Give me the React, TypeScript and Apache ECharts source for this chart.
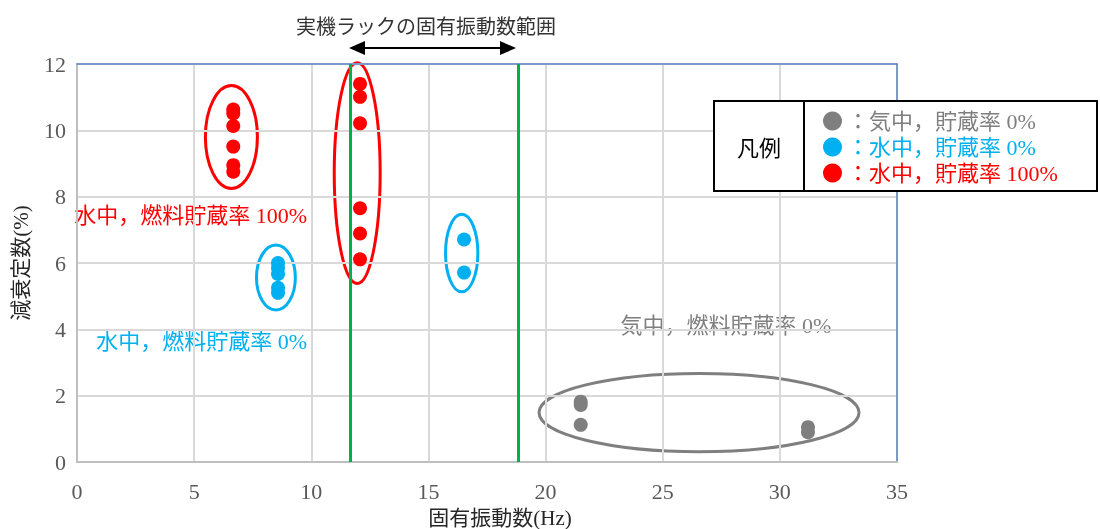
import React, { useEffect, useRef } from "react";
import * as echarts from "echarts";

// ---- data ----
const seriesNames = ["気中，貯蔵率 0%", "水中，貯蔵率 0%", "水中，貯蔵率 100%"];
const seriesColors = ["#7F7F7F", "#00B0F0", "#FF0000"];

const grayX = [21.5, 21.5, 21.5, 31.2, 31.2];
const grayY = [1.82, 1.72, 1.12, 1.05, 0.9];

const blueX = [8.58, 8.58, 8.58, 8.58, 8.58, 16.52, 16.52];
const blueY = [6.0, 5.85, 5.67, 5.25, 5.1, 6.71, 5.71];

const redX = [6.67, 6.67, 6.67, 6.67, 6.67, 6.67, 12.08, 12.08, 12.08, 12.08, 12.08, 12.08];
const redY = [10.63, 10.51, 10.13, 9.51, 8.95, 8.75, 11.4, 11.01, 10.21, 7.65, 6.89, 6.11];

// group ellipses: [centerX, centerY, radiusX, radiusY, colorIndex] in data units
const ellipseCx = [6.59, 11.96, 8.49, 16.42, 26.55];
const ellipseCy = [9.8, 8.71, 5.56, 6.3, 1.49];
const ellipseRx = [1.11, 0.98, 0.83, 0.69, 6.83];
const ellipseRy = [1.55, 3.33, 0.98, 1.17, 1.18];
const ellipseColor = [2, 2, 1, 1, 0];

// real rack natural frequency range (Hz)
const rackRange = [11.65, 18.85];

const xTicks = { min: 0, max: 35, interval: 5 };
const yTicks = { min: 0, max: 12, interval: 2 };

const title = "実機ラックの固有振動数範囲";
const xName = "固有振動数(Hz)";
const yName = "減衰定数(%)";
const legendTitle = "凡例";
const noteRed = "水中，燃料貯蔵率 100%";
const noteBlue = "水中，燃料貯蔵率 0%";
const noteGray = "気中，燃料貯蔵率 0%";

const zip = (xs: number[], ys: number[]) => xs.map((x, i) => [x, ys[i]]);

const SERIF = "'Liberation Serif', 'Noto Sans CJK JP', serif";
const CJK = "'Noto Sans CJK JP', sans-serif";
const BORDER = "#5B83C6";

export default function App() {
  const ref = useRef<HTMLDivElement>(null);
  useEffect(() => {
    if (!ref.current) return;
    const chart = echarts.init(ref.current, undefined, { renderer: "svg" });
    const ellipseData = ellipseCx.map((cx, i) => [cx, ellipseCy[i], ellipseRx[i], ellipseRy[i], ellipseColor[i]]);
    const scatterSets = [zip(grayX, grayY), zip(blueX, blueY), zip(redX, redY)];

    const frameAxis = {
      type: "value",
      axisLine: { show: true, onZero: false, lineStyle: { color: BORDER, width: 1.5 } },
      axisTick: { show: false },
      axisLabel: { show: false },
      splitLine: { show: false },
    };

    chart.setOption({
      animation: false,
      grid: {
        left: 77,
        right: 203,
        top: 64,
        bottom: 67,
        outerBoundsMode: "none",
        containLabel: false,
      },
      xAxis: [
        {
          type: "value",
          position: "bottom",
          min: xTicks.min,
          max: xTicks.max,
          interval: xTicks.interval,
          axisLine: { show: true, onZero: false, lineStyle: { color: "#BFBFBF", width: 2 } },
          axisTick: { show: false },
          axisLabel: { fontFamily: SERIF, fontSize: 22, color: "#595959", margin: 18 },
          splitLine: { show: true, lineStyle: { color: "#D9D9D9", width: 2 } },
          z: 3,
        },
        { ...frameAxis, position: "top", min: xTicks.min, max: xTicks.max, interval: xTicks.interval, z: 3 },
      ],
      yAxis: [
        {
          type: "value",
          position: "left",
          min: yTicks.min,
          max: yTicks.max,
          interval: yTicks.interval,
          name: yName,
          nameLocation: "middle",
          nameGap: 46,
          nameTextStyle: { fontFamily: SERIF, fontSize: 21, color: "#262626" },
          axisLine: { show: true, onZero: false, lineStyle: { color: "#BFBFBF", width: 2 } },
          axisTick: { show: false },
          axisLabel: { fontFamily: SERIF, fontSize: 22, color: "#595959", margin: 11 },
          splitLine: { show: true, lineStyle: { color: "#D9D9D9", width: 2 } },
          z: 3,
        },
        { ...frameAxis, position: "right", min: yTicks.min, max: yTicks.max, interval: yTicks.interval, z: 3 },
      ],
      legend: {
        orient: "vertical",
        left: 818,
        top: 105,
        itemWidth: 19,
        itemHeight: 19,
        itemGap: 4,
        icon: "circle",
        formatter: "：{name}",
        textStyle: { fontFamily: SERIF, fontSize: 22 },
        data: seriesNames.map((n, i) => ({ name: n, textStyle: { color: seriesColors[i] } })),
        z: 10,
      },
      graphic: [
        {
          type: "rect",
          z: 5,
          shape: { x: 714, y: 101, width: 383, height: 90 },
          style: { fill: "#fff", stroke: "#000", lineWidth: 2 },
        },
        {
          type: "line",
          z: 6,
          shape: { x1: 804, y1: 101, x2: 804, y2: 191 },
          style: { stroke: "#000", lineWidth: 2 },
        },
        {
          type: "text",
          z: 6,
          x: 759,
          y: 146,
          style: { text: legendTitle, fontFamily: CJK, fontSize: 22, fill: "#000", align: "center", verticalAlign: "middle" },
        },
        {
          type: "text",
          x: 426,
          y: 25,
          style: { text: title, fontFamily: CJK, fontSize: 20, fill: "#333", align: "center", verticalAlign: "middle" },
        },
        {
          type: "text",
          x: 500,
          y: 518,
          style: { text: xName, fontFamily: SERIF, fontSize: 21, fill: "#262626", align: "center", verticalAlign: "middle" },
        },
        {
          type: "line",
          shape: { x1: 362, y1: 48, x2: 504, y2: 48 },
          style: { stroke: "#000", lineWidth: 2 },
        },
        {
          type: "polygon",
          shape: { points: [[349, 48], [365, 41], [365, 55]] },
          style: { fill: "#000" },
        },
        {
          type: "polygon",
          shape: { points: [[516, 48], [500, 41], [500, 55]] },
          style: { fill: "#000" },
        },
        {
          type: "text",
          x: 307,
          y: 215,
          style: { text: noteRed, fontFamily: SERIF, fontSize: 22, fill: "#FF0000", align: "right", verticalAlign: "middle" },
        },
        {
          type: "text",
          x: 307,
          y: 341,
          style: { text: noteBlue, fontFamily: SERIF, fontSize: 22, fill: "#00B0F0", align: "right", verticalAlign: "middle" },
        },
        {
          type: "text",
          x: 726,
          y: 325,
          style: { text: noteGray, fontFamily: SERIF, fontSize: 22, fill: "#7F7F7F", align: "center", verticalAlign: "middle" },
        },
      ],
      series: [
        {
          type: "custom",
          name: "groups",
          z: 1,
          clip: false,
          data: ellipseData,
          renderItem: (params: any, api: any) => {
            const c = api.coord([api.value(0), api.value(1)]);
            const s = api.size([api.value(2), api.value(3)]);
            return {
              type: "ellipse",
              shape: { cx: c[0], cy: c[1], rx: s[0], ry: s[1] },
              style: { fill: "none", stroke: seriesColors[api.value(4)], lineWidth: 3 },
            };
          },
          markLine: {
            silent: true,
            symbol: ["none", "none"],
            label: { show: false },
            lineStyle: { color: "#00B050", width: 3, type: "solid" },
            data: rackRange.map((v) => ({ xAxis: v })),
          },
        },
        ...seriesNames.map((n, i) => ({
          type: "scatter",
          name: n,
          z: 3,
          symbol: "circle",
          symbolSize: 14,
          itemStyle: { color: seriesColors[i], opacity: 1 },
          data: scatterSets[i],
        })),
      ],
    });
    return () => chart.dispose();
  }, []);
  return <div ref={ref} style={{ position: "fixed", left: 0, top: 0, width: 1100, height: 529 }} />;
}
